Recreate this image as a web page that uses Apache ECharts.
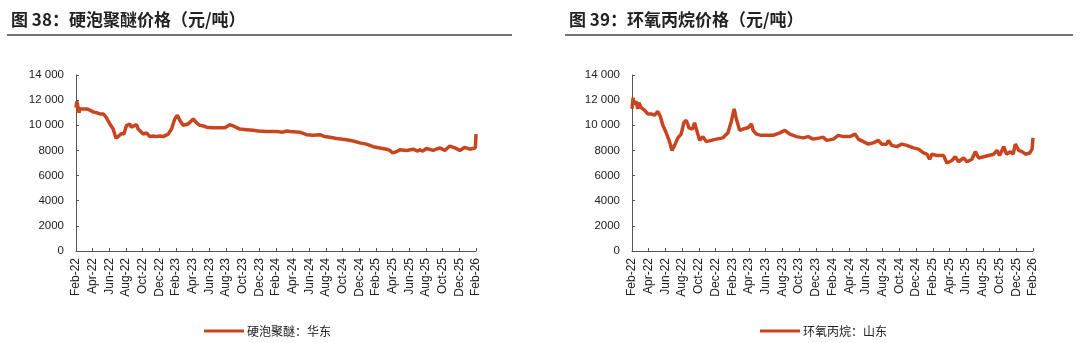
<!DOCTYPE html>
<html>
<head>
<meta charset="utf-8">
<script src="https://cdn.jsdelivr.net/npm/echarts@6/dist/echarts.min.js"></script>
<style>
html,body{margin:0;padding:0;background:#fff;}
#c{width:1080px;height:343px;}
</style>
</head>
<body>
<div id="c"></div>
<script>
// ---- Data ----
const xTickLabels = ['Feb-22','Apr-22','Jun-22','Aug-22','Oct-22','Dec-22','Feb-23','Apr-23','Jun-23','Aug-23','Oct-23','Dec-23','Feb-24','Apr-24','Jun-24','Aug-24','Oct-24','Dec-24','Feb-25','Apr-25','Jun-25','Aug-25','Oct-25','Dec-25','Feb-26'];

const leftTitle = '图 38：硬泡聚醚价格（元/吨）';
const leftSeriesName = '硬泡聚醚：华东';
const leftDates = ['2022-02-01','2022-02-04','2022-02-08','2022-02-12','2022-02-15','2022-02-21','2022-03-10','2022-03-21','2022-04-05','2022-04-15','2022-04-27','2022-05-03','2022-05-10','2022-05-21','2022-06-03','2022-06-15','2022-06-25','2022-07-03','2022-07-10','2022-07-15','2022-07-24','2022-08-03','2022-08-15','2022-08-20','2022-08-25','2022-09-09','2022-09-15','2022-09-21','2022-10-03','2022-10-15','2022-10-27','2022-11-10','2022-11-21','2022-12-05','2022-12-15','2023-01-03','2023-01-15','2023-01-27','2023-02-06','2023-02-15','2023-02-27','2023-03-15','2023-04-03','2023-04-15','2023-04-27','2023-05-10','2023-05-21','2023-06-15','2023-07-09','2023-07-27','2023-08-15','2023-08-27','2023-09-21','2023-10-15','2023-11-09','2023-11-15','2023-11-27','2023-12-27','2024-02-03','2024-02-27','2024-03-10','2024-03-21','2024-04-27','2024-05-21','2024-06-15','2024-07-09','2024-07-27','2024-08-15','2024-09-09','2024-10-15','2024-11-09','2024-12-03','2024-12-27','2025-01-21','2025-02-15','2025-03-09','2025-03-21','2025-04-01','2025-04-15','2025-04-27','2025-05-21','2025-06-15','2025-07-01','2025-07-09','2025-07-20','2025-08-03','2025-08-27','2025-09-21','2025-10-09','2025-10-27','2025-11-15','2025-12-03','2025-12-21','2026-01-09','2026-01-29','2026-02-01'];
const leftValues = [11400,11900,11500,11000,11300,11350,11300,11200,11050,11000,10900,11000,10900,10600,10100,9700,9000,9100,9150,9350,9300,10000,10100,9850,9800,10050,9700,9600,9300,9400,9100,9150,9100,9150,9100,9300,9700,10500,10800,10400,10000,10100,10500,10200,10000,9950,9850,9800,9800,9800,10050,9950,9700,9650,9600,9700,9550,9500,9500,9450,9550,9500,9450,9250,9200,9250,9100,9050,8950,8850,8750,8600,8500,8300,8200,8100,8000,7800,7900,8050,8000,8100,7950,8050,7950,8150,8000,8200,8000,8350,8200,8000,8250,8100,8200,9300];

const rightTitle = '图 39：环氧丙烷价格（元/吨）';
const rightSeriesName = '环氧丙烷：山东';
const rightDates = ['2022-02-01','2022-02-05','2022-02-08','2022-02-16','2022-02-22','2022-02-26','2022-03-04','2022-03-16','2022-03-28','2022-04-10','2022-04-22','2022-05-04','2022-05-13','2022-05-22','2022-06-04','2022-06-16','2022-06-25','2022-07-04','2022-07-16','2022-07-28','2022-08-07','2022-08-16','2022-08-26','2022-09-08','2022-09-16','2022-09-25','2022-10-04','2022-10-16','2022-10-28','2022-11-16','2022-12-04','2022-12-28','2023-01-16','2023-01-28','2023-02-08','2023-02-16','2023-02-28','2023-03-10','2023-03-28','2023-04-10','2023-04-16','2023-04-28','2023-05-16','2023-06-04','2023-06-28','2023-07-22','2023-08-10','2023-08-28','2023-09-22','2023-10-16','2023-11-04','2023-11-22','2023-12-16','2023-12-28','2024-01-10','2024-02-04','2024-02-22','2024-03-10','2024-04-04','2024-04-22','2024-05-04','2024-05-22','2024-06-10','2024-06-28','2024-07-16','2024-07-28','2024-08-16','2024-08-22','2024-09-04','2024-09-22','2024-10-10','2024-10-28','2024-11-22','2024-12-10','2024-12-28','2025-01-10','2025-01-20','2025-01-28','2025-02-16','2025-03-10','2025-03-22','2025-04-10','2025-04-22','2025-05-04','2025-05-22','2025-06-04','2025-06-22','2025-07-04','2025-07-16','2025-08-04','2025-08-22','2025-09-10','2025-09-22','2025-10-01','2025-10-16','2025-10-26','2025-11-10','2025-11-20','2025-11-28','2025-12-10','2025-12-22','2026-01-04','2026-01-20','2026-01-28','2026-02-01'];
const rightValues = [11300,12200,11700,11900,11300,11800,11400,11200,10900,10900,10800,11100,10700,10000,9400,8700,8000,8400,9000,9300,10200,10400,9800,9700,10200,9500,8800,9100,8700,8800,8900,9000,9400,10300,11300,10500,9600,9700,9800,10100,9600,9300,9200,9200,9200,9400,9600,9300,9100,9000,9100,8900,9000,9050,8800,8900,9200,9100,9100,9300,8900,8700,8500,8600,8800,8500,8500,8800,8400,8300,8500,8400,8200,8100,7800,7700,7300,7700,7600,7600,7000,7200,7500,7100,7400,7100,7300,7900,7400,7500,7600,7700,8000,7600,8300,7700,7900,7700,8500,8000,7900,7700,7800,8100,9000];

// ---- Helpers ----
function monthIndex(s){
  const p = s.split('-').map(Number);
  return (p[0]-2022)*12 + (p[1]-2) + (p[2]-1)/30.5;
}
function pairs(dates, vals){ return dates.map((d,i)=>[monthIndex(d), vals[i]]); }
function fmtY(v){
  if (v >= 10000) { const s = String(v); return s.slice(0, s.length-3) + ' ' + s.slice(-3); }
  return String(v);
}

const LINE_COLOR = '#C8451F';
const AXIS_COLOR = '#555';
const LABEL_FONT = '"Liberation Sans", Arial, sans-serif';
const CJK_FONT = '"Noto Sans CJK SC", sans-serif';

function xAxis(gi){
  return {
    gridIndex: gi, type: 'value', min: 0, max: 48, interval: 2,
    axisLine: {show: true, lineStyle: {color: AXIS_COLOR, width: 1}},
    axisTick: {show: true, inside: true, length: 3, lineStyle: {color: AXIS_COLOR}},
    splitLine: {show: false},
    axisLabel: {
      rotate: 90, margin: 7, fontSize: 12, color: '#222', fontFamily: LABEL_FONT,
      formatter: v => xTickLabels[Math.round(v/2)] || ''
    }
  };
}
function yAxis(gi){
  return {
    gridIndex: gi, type: 'value', min: 0, max: 14000, interval: 2000,
    axisLine: {show: true, lineStyle: {color: AXIS_COLOR, width: 1}},
    axisTick: {show: true, inside: true, length: 3, lineStyle: {color: AXIS_COLOR}},
    splitLine: {show: false},
    axisLabel: {margin: 12, fontSize: 11.5, color: '#222', fontFamily: LABEL_FONT, formatter: fmtY}
  };
}

const chart = echarts.init(document.getElementById('c'), null, {renderer: 'canvas'});
chart.setOption({
  backgroundColor: '#fff',
  animation: false,
  title: [
    {text: leftTitle, left: 6, top: 6, textStyle: {fontFamily: CJK_FONT, fontSize: 17, fontWeight: 'bold', color: '#222'}},
    {text: rightTitle, left: 564, top: 6, textStyle: {fontFamily: CJK_FONT, fontSize: 17, fontWeight: 'bold', color: '#222'}}
  ],
  graphic: [
    {type: 'line', shape: {x1: 7, y1: 35, x2: 512, y2: 35}, style: {stroke: '#444', lineWidth: 1.5}},
    {type: 'line', shape: {x1: 565, y1: 35, x2: 1073, y2: 35}, style: {stroke: '#444', lineWidth: 1.5}}
  ],
  grid: [
    {left: 76, right: 604, top: 75, bottom: 92},
    {left: 632, right: 47, top: 75, bottom: 92}
  ],
  xAxis: [xAxis(0), xAxis(1)],
  yAxis: [yAxis(0), yAxis(1)],
  legend: [
    {data: [leftSeriesName], left: 199, top: 320, icon: 'rect', itemWidth: 40, itemHeight: 3, itemGap: 10,
     textStyle: {fontFamily: CJK_FONT, fontSize: 12, color: '#222', padding: [0,0,0,-2]}},
    {data: [rightSeriesName], left: 755, top: 320, icon: 'rect', itemWidth: 40, itemHeight: 3, itemGap: 10,
     textStyle: {fontFamily: CJK_FONT, fontSize: 12, color: '#222', padding: [0,0,0,-2]}}
  ],
  series: [
    {name: leftSeriesName, type: 'line', xAxisIndex: 0, yAxisIndex: 0, data: pairs(leftDates, leftValues),
     showSymbol: false, symbol: 'none', lineStyle: {color: LINE_COLOR, width: 3.5}, itemStyle: {color: LINE_COLOR}},
    {name: rightSeriesName, type: 'line', xAxisIndex: 1, yAxisIndex: 1, data: pairs(rightDates, rightValues),
     showSymbol: false, symbol: 'none', lineStyle: {color: LINE_COLOR, width: 3.5}, itemStyle: {color: LINE_COLOR}}
  ]
});
</script>
</body>
</html>
